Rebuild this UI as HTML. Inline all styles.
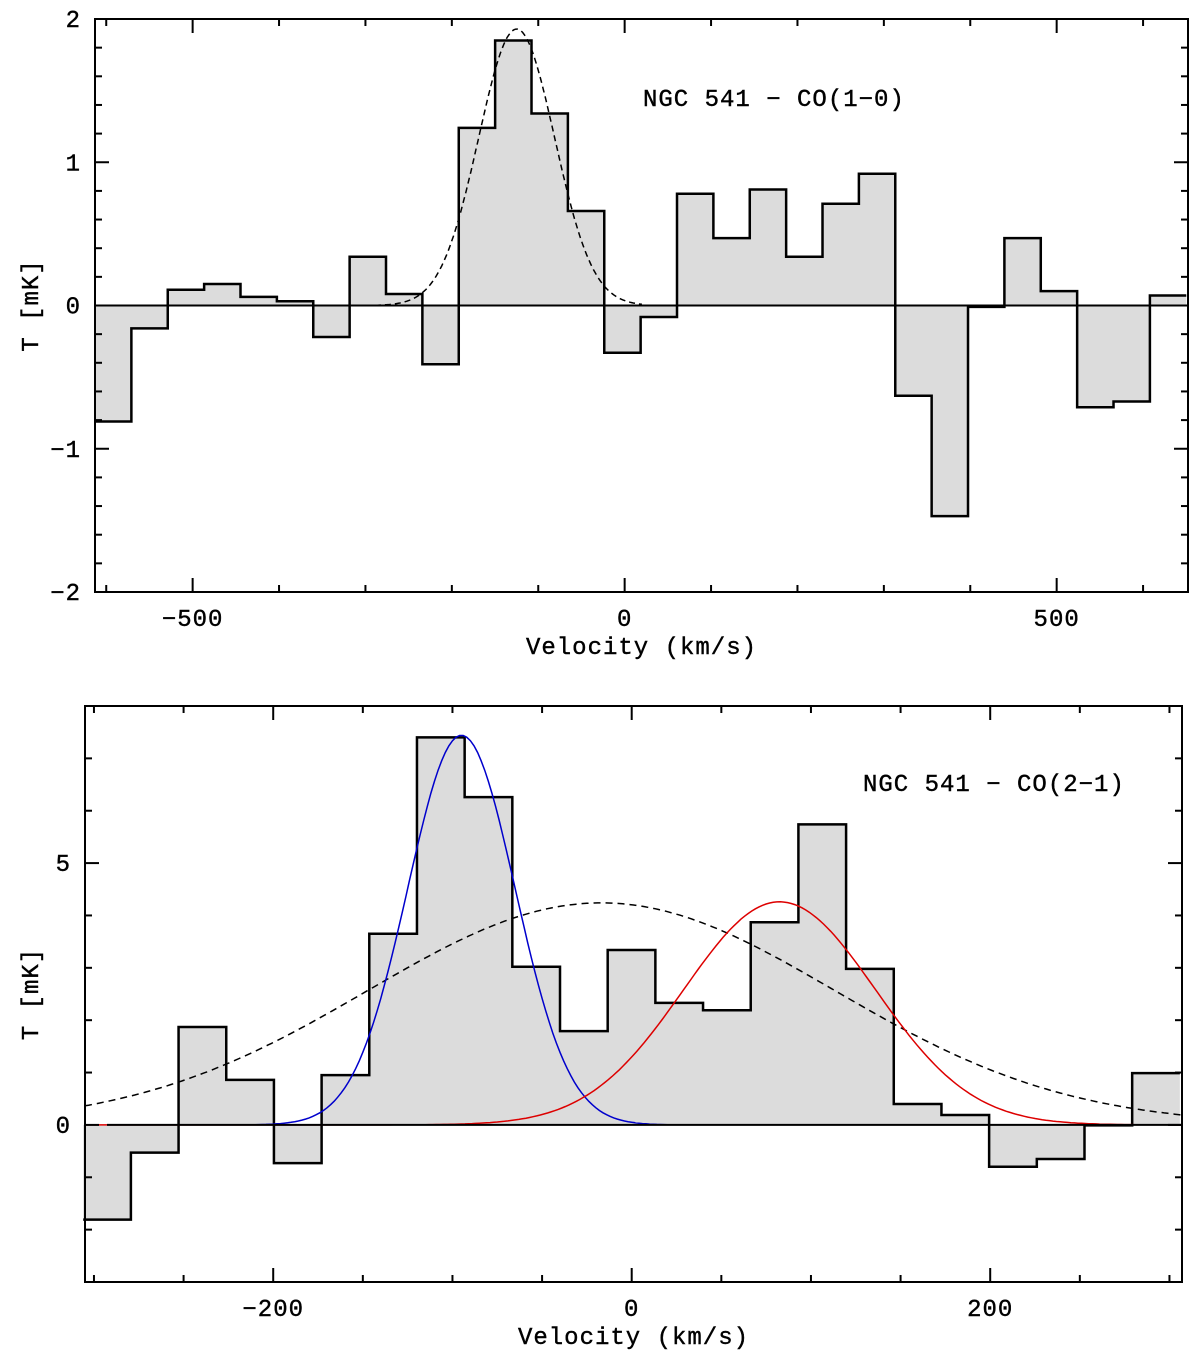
<!DOCTYPE html>
<html><head><meta charset="utf-8"><style>
body{margin:0;background:#fff}
svg text{font-family:"Liberation Mono",monospace;font-size:24px;fill:#000;letter-spacing:1px;stroke:#000;stroke-width:0.4px}
</style></head><body>
<svg id="s" width="1200" height="1353"></svg>
<script>
// Top panel CO(1-0)
const topBinStart=-613, topBinWidth=42.1;
const topValues=[-0.81,-0.16,0.11,0.15,0.06,0.03,-0.22,0.34,0.08,-0.41,1.24,1.85,1.34,0.66,-0.33,-0.08,0.78,0.47,0.81,0.34,0.71,0.92,-0.63,-1.47,-0.01,0.47,0.10,-0.71,-0.67,0.07];
const topGauss=[1.93,-125,44];
const topXTicks=[-500,0,500];
const topYTicks=[-2,-1,0,1,2];
// Bottom panel CO(2-1)
const botBinStart=-306, botBinWidth=26.6;
const botValues=[-1.81,-0.53,1.87,0.86,-0.73,0.95,3.65,7.40,6.26,3.02,1.79,3.34,2.33,2.19,3.87,5.74,2.98,0.40,0.19,-0.80,-0.65,-0.01,0.99];
const blueGauss=[7.44,-95,30];
const redGauss=[4.26,82.5,53.5];
const wideGauss=[4.24,-17,130];
const botXTicks=[-200,0,200];
const botYTicks=[0,5];

const NS='http://www.w3.org/2000/svg', S=document.getElementById('s');
function mk(t,a,p){const e=document.createElementNS(NS,t);for(const k in a)e.setAttribute(k,a[k]);(p||S).appendChild(e);return e;}
function panel(o){
  const g=mk('g',{});
  
  
  const X=v=>o.x0+(v-o.v0)/(o.v1-o.v0)*(o.x1-o.x0);
  const Y=t=>o.y1-(t-o.t0)/(o.t1-o.t0)*(o.y1-o.y0);
  let d=`M${X(o.bs)},${Y(0)}`;
  o.vals.forEach((v,i)=>{d+=`L${X(o.bs+i*o.bw)},${Y(v)}L${X(o.bs+(i+1)*o.bw)},${Y(v)}`;});
  d+=`L${X(o.bs+o.vals.length*o.bw)},${Y(0)}Z`;
  const f=mk('path',{d,fill:'#dcdcdc',stroke:'none'},g);
  
  
  let d2='';
  o.vals.forEach((v,i)=>{const a=X(o.bs+i*o.bw),b=X(o.bs+(i+1)*o.bw);d2+=(i?'L':'M')+`${a},${Y(v)}L${b},${Y(v)}`;if(i<o.vals.length-1)d2+=`L${b},${Y(o.vals[i+1])}`;});
  const h=mk('path',{d:d2,fill:'none',stroke:'#000','stroke-width':2.5},g);
  
  
  o.gauss.forEach(gs=>{
    const [A,m,s]=gs.p;let p='';
    for(let v=gs.from;v<=gs.to;v+=2){p+=(p?'L':'M')+`${X(v).toFixed(1)},${Y(A*Math.exp(-(v-m)*(v-m)/(2*s*s))).toFixed(1)}`;}
    const e=mk('path',{d:p,fill:'none',stroke:gs.c,'stroke-width':1.5,'stroke-dasharray':gs.dash||'none'},g);
    
    
  });
  const z=mk('line',{x1:o.x0+(o.zoff||0),x2:o.x1,y1:Y(0),y2:Y(0),stroke:'#000','stroke-width':2},g);
  
  
  const fr=mk('rect',{x:o.x0,y:o.y0,width:o.x1-o.x0,height:o.y1-o.y0,fill:'none',stroke:'#000','stroke-width':2},g);
  
  
  for(let v=Math.ceil(o.v0/o.xm)*o.xm;v<=o.v1;v+=o.xm){const maj=Math.abs(v%o.xM)<1e-6,L=maj?14:7;
    mk('line',{x1:X(v),x2:X(v),y1:o.y1,y2:o.y1-L,stroke:'#000','stroke-width':2},g);
    mk('line',{x1:X(v),x2:X(v),y1:o.y0,y2:o.y0+L,stroke:'#000','stroke-width':2},g);}
  for(let t=Math.ceil(o.t0/o.ym-1e-9)*o.ym;t<=o.t1+1e-9;t+=o.ym){const maj=Math.abs(Math.round(t/o.yM)*o.yM-t)<1e-6,L=maj?14:7;
    mk('line',{x1:o.x0,x2:o.x0+L,y1:Y(t),y2:Y(t),stroke:'#000','stroke-width':2},g);
    mk('line',{x1:o.x1,x2:o.x1-L,y1:Y(t),y2:Y(t),stroke:'#000','stroke-width':2},g);}
  o.xt.forEach(v=>{const t=mk('text',{x:X(v),y:o.y1+34,'text-anchor':'middle'},g);t.textContent=(v<0?'−':'')+Math.abs(v);
    
    });
  o.yt.forEach(v=>{const t=mk('text',{x:o.x0-14,y:Y(v)+8,'text-anchor':'end'},g);t.textContent=(v<0?'−':'')+Math.abs(v);
    
    });
  const xl=mk('text',{x:(o.x0+o.x1)/2,y:o.y1+62,'text-anchor':'middle'},g);xl.textContent='Velocity (km/s)';
  
  
  const yc=(o.y0+o.y1)/2;
  const yl=mk('text',{x:38,y:yc,'text-anchor':'middle',transform:`rotate(-90 38 ${yc})`},g);yl.textContent='T [mK]';
  
  
  const lb=mk('text',{x:o.lx,y:o.ly},g);lb.textContent=o.label;
  
  
}
panel({name:'co10-panel',x0:95,x1:1188,y0:19,y1:592,v0:-613,v1:652,t0:-2,t1:2,bs:topBinStart,bw:topBinWidth,vals:topValues,
  gauss:[{p:topGauss,from:-590,to:20,c:'#000',dash:'6 4',name:'gaussian-fit'}],
  xm:100,xM:500,ym:0.2,yM:1,xt:topXTicks,yt:topYTicks,label:'NGC 541 − CO(1−0)',lx:643,ly:106});
panel({name:'co21-panel',x0:85,x1:1182,y0:706,y1:1282,v0:-305,v1:307,t0:-3,t1:8,bs:botBinStart,bw:botBinWidth,vals:botValues,zoff:22,
  gauss:[{p:wideGauss,from:-305,to:307,c:'#000',dash:'7 5',name:'wide-gaussian-fit'},
         {p:blueGauss,from:-220,to:25,c:'#0000cc',name:'blue-gaussian-fit'},
         {p:redGauss,from:-305,to:307,c:'#dd0000',name:'red-gaussian-fit'}],
  xm:50,xM:200,ym:1,yM:5,xt:botXTicks,yt:botYTicks,label:'NGC 541 − CO(2−1)',lx:863,ly:791});
</script>
</body></html>
